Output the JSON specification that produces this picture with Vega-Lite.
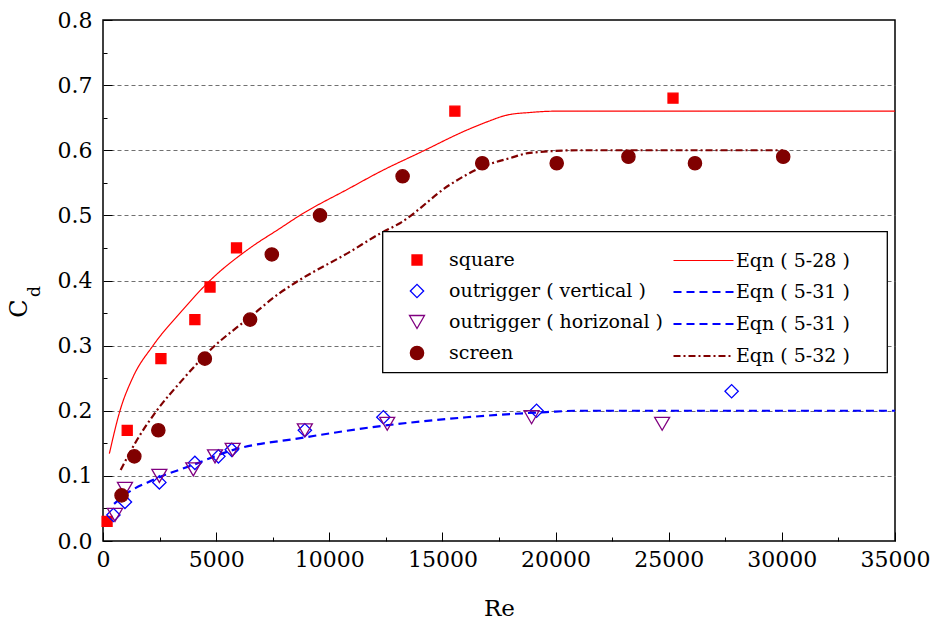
{
  "$schema": "https://vega.github.io/schema/vega-lite/v6.json",
  "width": 792,
  "height": 521,
  "autosize": {"type": "none"},
  "padding": {"left": 103, "top": 20, "right": 40, "bottom": 81},
  "background": "white",
  "config": {
    "font": "DejaVu Serif",
    "view": {"stroke": "#000000", "strokeWidth": 1.5},
    "axis": {
      "domain": false,
      "labelFont": "DejaVu Serif",
      "labelColor": "#000000",
      "labelFontSize": 22,
      "titleFont": "DejaVu Serif",
      "titleColor": "#000000",
      "titleFontWeight": "normal",
      "tickColor": "#000000",
      "tickWidth": 1
    },
    "legend": {
      "labelFont": "DejaVu Serif",
      "labelFontSize": 19,
      "labelColor": "#000000",
      "labelLimit": 400,
      "padding": 0
    }
  },
  "datasets": {
    "observed": [
      {"series": "square", "Re": 180, "Cd": 0.03},
      {"series": "square", "Re": 1070, "Cd": 0.17},
      {"series": "square", "Re": 2560, "Cd": 0.28},
      {"series": "square", "Re": 4060, "Cd": 0.34},
      {"series": "square", "Re": 4730, "Cd": 0.39},
      {"series": "square", "Re": 5900, "Cd": 0.45},
      {"series": "square", "Re": 15550, "Cd": 0.66},
      {"series": "square", "Re": 25190, "Cd": 0.68},
      {"series": "outrigger ( vertical )", "Re": 460, "Cd": 0.04},
      {"series": "outrigger ( vertical )", "Re": 970, "Cd": 0.06},
      {"series": "outrigger ( vertical )", "Re": 2490, "Cd": 0.09},
      {"series": "outrigger ( vertical )", "Re": 4060, "Cd": 0.12},
      {"series": "outrigger ( vertical )", "Re": 5100, "Cd": 0.13},
      {"series": "outrigger ( vertical )", "Re": 5690, "Cd": 0.14},
      {"series": "outrigger ( vertical )", "Re": 8920, "Cd": 0.17},
      {"series": "outrigger ( vertical )", "Re": 12390, "Cd": 0.19},
      {"series": "outrigger ( vertical )", "Re": 19160, "Cd": 0.20},
      {"series": "outrigger ( vertical )", "Re": 27780, "Cd": 0.23},
      {"series": "outrigger ( horizonal )", "Re": 530, "Cd": 0.04},
      {"series": "outrigger ( horizonal )", "Re": 970, "Cd": 0.08},
      {"series": "outrigger ( horizonal )", "Re": 2490, "Cd": 0.10},
      {"series": "outrigger ( horizonal )", "Re": 3990, "Cd": 0.11},
      {"series": "outrigger ( horizonal )", "Re": 4950, "Cd": 0.13},
      {"series": "outrigger ( horizonal )", "Re": 5730, "Cd": 0.14},
      {"series": "outrigger ( horizonal )", "Re": 8920, "Cd": 0.17},
      {"series": "outrigger ( horizonal )", "Re": 12560, "Cd": 0.18},
      {"series": "outrigger ( horizonal )", "Re": 18940, "Cd": 0.19},
      {"series": "outrigger ( horizonal )", "Re": 24710, "Cd": 0.18},
      {"series": "screen", "Re": 820, "Cd": 0.07},
      {"series": "screen", "Re": 1385, "Cd": 0.13},
      {"series": "screen", "Re": 2445, "Cd": 0.17},
      {"series": "screen", "Re": 4500, "Cd": 0.28},
      {"series": "screen", "Re": 6500, "Cd": 0.34},
      {"series": "screen", "Re": 7460, "Cd": 0.44},
      {"series": "screen", "Re": 9590, "Cd": 0.50},
      {"series": "screen", "Re": 13240, "Cd": 0.56},
      {"series": "screen", "Re": 16760, "Cd": 0.58},
      {"series": "screen", "Re": 20050, "Cd": 0.58},
      {"series": "screen", "Re": 23220, "Cd": 0.59},
      {"series": "screen", "Re": 26160, "Cd": 0.58},
      {"series": "screen", "Re": 30060, "Cd": 0.59}
    ],
    "fitted": [
      {"eqn": "5-28", "Re": 280, "Cd": 0.134},
      {"eqn": "5-28", "Re": 750, "Cd": 0.200},
      {"eqn": "5-28", "Re": 1330, "Cd": 0.252},
      {"eqn": "5-28", "Re": 2210, "Cd": 0.300},
      {"eqn": "5-28", "Re": 3500, "Cd": 0.354},
      {"eqn": "5-28", "Re": 4730, "Cd": 0.400},
      {"eqn": "5-28", "Re": 6500, "Cd": 0.450},
      {"eqn": "5-28", "Re": 7820, "Cd": 0.480},
      {"eqn": "5-28", "Re": 8700, "Cd": 0.500},
      {"eqn": "5-28", "Re": 10910, "Cd": 0.542},
      {"eqn": "5-28", "Re": 12240, "Cd": 0.567},
      {"eqn": "5-28", "Re": 14100, "Cd": 0.598},
      {"eqn": "5-28", "Re": 16080, "Cd": 0.631},
      {"eqn": "5-28", "Re": 17000, "Cd": 0.644},
      {"eqn": "5-28", "Re": 17850, "Cd": 0.654},
      {"eqn": "5-28", "Re": 18870, "Cd": 0.658},
      {"eqn": "5-28", "Re": 20000, "Cd": 0.660},
      {"eqn": "5-28", "Re": 35000, "Cd": 0.660},
      {"eqn": "5-31v", "Re": 490, "Cd": 0.057},
      {"eqn": "5-31v", "Re": 970, "Cd": 0.071},
      {"eqn": "5-31v", "Re": 2230, "Cd": 0.094},
      {"eqn": "5-31v", "Re": 3990, "Cd": 0.117},
      {"eqn": "5-31v", "Re": 5760, "Cd": 0.140},
      {"eqn": "5-31v", "Re": 8720, "Cd": 0.158},
      {"eqn": "5-31v", "Re": 12390, "Cd": 0.177},
      {"eqn": "5-31v", "Re": 16070, "Cd": 0.190},
      {"eqn": "5-31v", "Re": 19600, "Cd": 0.198},
      {"eqn": "5-31v", "Re": 21000, "Cd": 0.200},
      {"eqn": "5-31v", "Re": 35000, "Cd": 0.200},
      {"eqn": "5-32", "Re": 780, "Cd": 0.109},
      {"eqn": "5-32", "Re": 1500, "Cd": 0.155},
      {"eqn": "5-32", "Re": 2370, "Cd": 0.200},
      {"eqn": "5-32", "Re": 3500, "Cd": 0.247},
      {"eqn": "5-32", "Re": 4730, "Cd": 0.293},
      {"eqn": "5-32", "Re": 6500, "Cd": 0.344},
      {"eqn": "5-32", "Re": 7820, "Cd": 0.381},
      {"eqn": "5-32", "Re": 8560, "Cd": 0.398},
      {"eqn": "5-32", "Re": 10910, "Cd": 0.444},
      {"eqn": "5-32", "Re": 12240, "Cd": 0.472},
      {"eqn": "5-32", "Re": 13120, "Cd": 0.488},
      {"eqn": "5-32", "Re": 15330, "Cd": 0.547},
      {"eqn": "5-32", "Re": 16800, "Cd": 0.575},
      {"eqn": "5-32", "Re": 17990, "Cd": 0.588},
      {"eqn": "5-32", "Re": 18870, "Cd": 0.596},
      {"eqn": "5-32", "Re": 21080, "Cd": 0.600},
      {"eqn": "5-32", "Re": 30050, "Cd": 0.600}
    ]
  },
  "resolve": {"axis": {"x": "independent", "y": "independent"}},
  "layer": [
    {
      "data": {"name": "fitted"},
      "mark": {"type": "line", "clip": true, "interpolate": "monotone"},
      "encoding": {
        "x": {
          "field": "Re",
          "type": "quantitative",
          "scale": {"domain": [0, 35000], "nice": false, "zero": false},
          "axis": {
            "orient": "bottom",
            "title": "Re",
            "titleFontSize": 23,
            "titlePadding": 22,
            "values": [0, 2500, 5000, 7500, 10000, 12500, 15000, 17500, 20000, 22500, 25000, 27500, 30000, 32500, 35000],
            "format": "d",
            "labelExpr": "datum.value % 5000 === 0 ? datum.label : ''",
            "labelPadding": 17,
            "labelFlush": false,
            "labelOverlap": false,
            "tickSize": {"condition": {"test": "datum.value % 5000 === 0", "value": -9}, "value": -4},
            "grid": false
          }
        },
        "y": {
          "field": "Cd",
          "type": "quantitative",
          "scale": {"domain": [0, 0.8], "nice": false, "zero": false},
          "axis": {
            "orient": "left",
            "title": "C",
            "titleFontSize": 24,
            "titleAngle": -90,
            "titleAlign": "center",
            "titleBaseline": "middle",
            "titleX": -84,
            "titleY": 288,
            "values": [0, 0.05, 0.1, 0.15, 0.2, 0.25, 0.3, 0.35, 0.4, 0.45, 0.5, 0.55, 0.6, 0.65, 0.7, 0.75, 0.8],
            "format": ".1f",
            "labelExpr": "abs(datum.value * 10 - round(datum.value * 10)) < 0.001 ? datum.label : ''",
            "labelPadding": 20,
            "labelFlush": false,
            "labelOverlap": false,
            "tickSize": {"condition": {"test": "abs(datum.value * 10 - round(datum.value * 10)) < 0.001", "value": -9}, "value": -4},
            "grid": true,
            "gridColor": "#707070",
            "gridDash": [4, 3],
            "gridWidth": 1,
            "gridOpacity": {"condition": {"test": "abs(datum.value * 10 - round(datum.value * 10)) < 0.001 && datum.value > 0.01 && datum.value < 0.79", "value": 1}, "value": 0}
          }
        },
        "color": {
          "field": "eqn",
          "type": "nominal",
          "scale": {"domain": ["5-28", "5-31v", "5-31h", "5-32"], "range": ["#FF0000", "#0000FF", "#0000FF", "#800000"]},
          "legend": {
            "orient": "none",
            "legendX": 590,
            "legendY": 230.5,
            "title": null,
            "symbolType": "M-3.333,0H3.333",
            "symbolSize": 324,
            "labelOffset": 22,
            "rowPadding": 11,
            "labelExpr": "'Eqn ( ' + slice(datum.label, 0, 4) + ' )'"
          }
        },
        "strokeDash": {
          "field": "eqn",
          "type": "nominal",
          "scale": {"domain": ["5-28", "5-31v", "5-31h", "5-32"], "range": [[1, 0], [8, 5], [8, 5], [7, 3, 2, 3]]}
        },
        "strokeWidth": {
          "field": "eqn",
          "type": "nominal",
          "scale": {"type": "ordinal", "domain": ["5-28", "5-31v", "5-31h", "5-32"], "range": [1.2, 2.2, 2.2, 2.2]}
        }
      }
    },
    {
      "data": {"name": "observed"},
      "mark": {"type": "point", "filled": true, "opacity": 1, "strokeWidth": 1.3},
      "encoding": {
        "x": {"field": "Re", "type": "quantitative", "axis": null},
        "y": {"field": "Cd", "type": "quantitative", "axis": null},
        "stroke": {
          "field": "series",
          "type": "nominal",
          "scale": {"domain": ["square", "outrigger ( vertical )", "outrigger ( horizonal )", "screen"], "range": ["#FF0000", "#0000FF", "#800080", "#800000"]},
          "legend": {
            "orient": "none",
            "legendX": 304.5,
            "legendY": 230.5,
            "title": null,
            "labelOffset": 22.5,
            "rowPadding": 11,
            "symbolStrokeWidth": 1.3
          }
        },
        "fill": {
          "field": "series",
          "type": "nominal",
          "scale": {"domain": ["square", "outrigger ( vertical )", "outrigger ( horizonal )", "screen"], "range": ["#FF0000", "transparent", "transparent", "#800000"]}
        },
        "shape": {
          "field": "series",
          "type": "nominal",
          "scale": {"domain": ["square", "outrigger ( vertical )", "outrigger ( horizonal )", "screen"], "range": ["square", "diamond", "triangle-down", "circle"]}
        },
        "size": {
          "field": "series",
          "type": "nominal",
          "scale": {"type": "ordinal", "domain": ["square", "outrigger ( vertical )", "outrigger ( horizonal )", "screen"], "range": [100, 177, 225, 177]}
        }
      }
    },
    {
      "data": {"values": [{}]},
      "mark": {"type": "rect", "fill": "#FFFFFF", "stroke": "#000000", "strokeWidth": 1.3},
      "encoding": {
        "x": {"datum": 12360, "type": "quantitative", "axis": null},
        "x2": {"datum": 34660},
        "y": {
          "datum": 0.4749,
          "type": "quantitative",
          "axis": {
            "orient": "left",
            "title": "d",
            "titleFontSize": 17,
            "titleAngle": -90,
            "titleAlign": "center",
            "titleBaseline": "middle",
            "titleX": -69,
            "titleY": 271,
            "labels": false,
            "ticks": false,
            "grid": false,
            "domain": false
          }
        },
        "y2": {"datum": 0.2584}
      }
    }
  ]
}
